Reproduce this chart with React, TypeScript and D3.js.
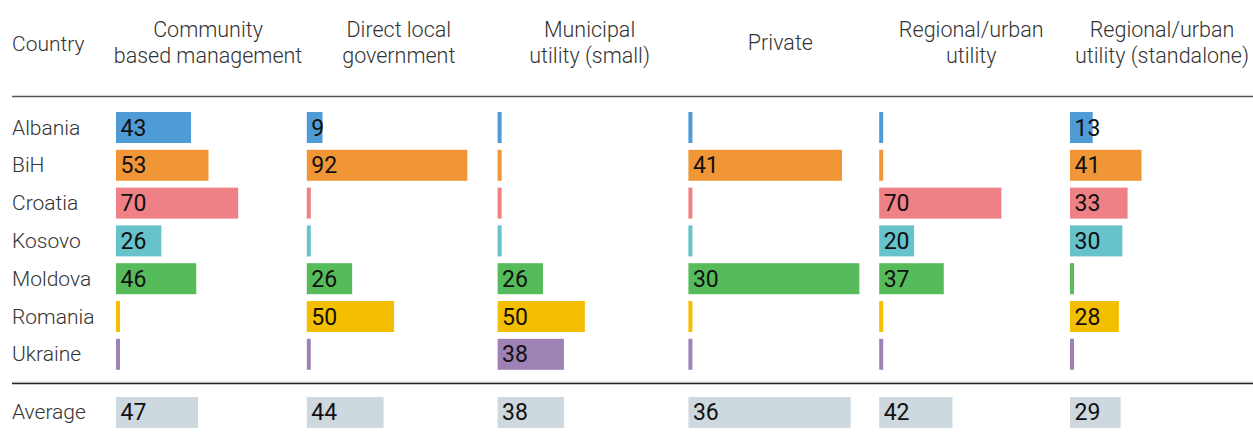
import React from "react";
import * as d3 from "d3";

// Rows and columns
const countries = ["Albania", "BiH", "Croatia", "Kosovo", "Moldova", "Romania", "Ukraine"];
const categories = [
  "Community based management",
  "Direct local government",
  "Municipal utility (small)",
  "Private",
  "Regional/urban utility",
  "Regional/urban utility (standalone)",
];
const headerLines = [
  ["Community", "based management"],
  ["Direct local", "government"],
  ["Municipal", "utility (small)"],
  ["Private"],
  ["Regional/urban", "utility"],
  ["Regional/urban", "utility (standalone)"],
];

// Values per category, in country order (null = no value)
const community = [43, 53, 70, 26, 46, null, null];
const directLocal = [9, 92, null, null, 26, 50, null];
const municipal = [null, null, null, null, 26, 50, 38];
const privateOp = [null, 41, null, null, 30, null, null];
const regional = [null, null, 70, 20, 37, null, null];
const standalone = [13, 41, 33, 30, null, 28, null];
const averages = [47, 44, 38, 36, 42, 29];

// Private bars in the source are drawn longer than their labels
const privateBarLength = [null, 88, null, null, 98, null, null];
const privateAvgBarLength = 93;

const labelValues = [community, directLocal, municipal, privateOp, regional, standalone];
const barValues = [community, directLocal, municipal, privateBarLength, regional, standalone];
const avgBarValues = [47, 44, 38, privateAvgBarLength, 42, 29];

const countryColors = ["#4f9bd5", "#f09637", "#ef8086", "#66c2cb", "#56bb5a", "#f4bf00", "#9f82b5"];
const avgColor = "#cdd8df";

const App = () => {
  const width = 1253;
  const height = 432;
  const font = "Roboto, 'Noto Sans', sans-serif";
  const textSize = 21;
  const headSize = 21.5;
  const valueSize = 23;

  const x = d3.scaleBand<string>().domain(categories).range([116, 116 + 6 * 190.8]).padding(0);
  const len = d3.scaleLinear().domain([0, 100]).range([0, 174.5]);
  const y = d3
    .scaleBand<string>()
    .domain(countries)
    .range([108.6, 108.6 + 7 * 37.8])
    .paddingInner(0.18)
    .paddingOuter(0.09);
  const bh = y.bandwidth();
  const avgY = 397;
  const minW = 4;

  return (
    <svg
      width={width}
      height={height}
      style={{ position: "absolute", left: 0, top: 0, background: "#fff" }}
      fontFamily={font}
    >
      {/* header */}
      <text x={12} y={50.5} fontSize={textSize} fontWeight={300} fill="#333">
        Country
      </text>
      {categories.map((c, i) => {
        const lines = headerLines[i];
        const cx = (x(c) as number) + 92;
        const y0 = lines.length === 1 ? 50 : 37;
        return (
          <text key={c} x={cx} y={y0} fontSize={headSize} fontWeight={300} fill="#333" textAnchor="middle">
            {lines.map((l, j) => (
              <tspan key={j} x={cx} dy={j === 0 ? 0 : 26}>
                {l}
              </tspan>
            ))}
          </text>
        );
      })}
      <line x1={12} x2={1253} y1={96.5} y2={96.5} stroke="#555" strokeWidth={1.3} />

      {/* country labels */}
      {countries.map((c) => (
        <text
          key={c}
          x={12}
          y={(y(c) as number) + bh / 2 + 7}
          fontSize={textSize}
          fontWeight={300}
          fill="#333"
        >
          {c}
        </text>
      ))}

      {/* bars */}
      {categories.map((cat, ci) =>
        countries.map((c, ri) => {
          const v = barValues[ci][ri];
          const lab = labelValues[ci][ri];
          const x0 = x(cat) as number;
          const y0 = y(c) as number;
          const w = v == null ? minW : Math.max(minW, len(v));
          return (
            <g key={cat + c}>
              <rect x={x0} y={y0} width={w} height={bh} fill={countryColors[ri]} />
              {lab != null && (
                <text x={x0 + 4.5} y={y0 + bh / 2 + 8} fontSize={valueSize} fill="#111">
                  {lab}
                </text>
              )}
            </g>
          );
        })
      )}

      {/* separator */}
      <line x1={12} x2={1253} y1={382} y2={382} stroke="#d4d4d4" strokeWidth={1} />
      <line x1={12} x2={1253} y1={383.5} y2={383.5} stroke="#222" strokeWidth={1.3} />

      {/* average row */}
      <text x={12} y={avgY + bh / 2 + 7} fontSize={textSize} fontWeight={300} fill="#333">
        Average
      </text>
      {categories.map((cat, ci) => {
        const x0 = x(cat) as number;
        return (
          <g key={"avg" + cat}>
            <rect x={x0} y={avgY} width={len(avgBarValues[ci])} height={bh} fill={avgColor} />
            <text x={x0 + 4.5} y={avgY + bh / 2 + 8} fontSize={valueSize} fill="#111">
              {averages[ci]}
            </text>
          </g>
        );
      })}
    </svg>
  );
};

export default App;
